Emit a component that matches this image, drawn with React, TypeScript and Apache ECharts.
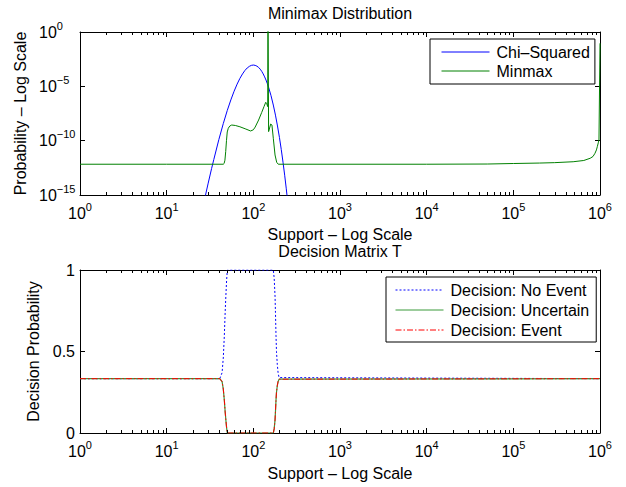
import React, { useEffect, useRef } from 'react';
import * as echarts from 'echarts';

const FONT = '"Liberation Sans", Arial, Helvetica, sans-serif';

// ---- Top panel: Minimax Distribution ----
const chiX = [26, 28, 30, 33, 35, 40, 45, 50, 55, 60, 65, 70, 75, 80, 85, 90, 95, 100, 105, 110, 115, 120, 125, 130, 135, 140, 145, 150, 160, 170, 180, 190, 200, 210, 220, 230, 240, 250];
const chiY = [6.3e-17, 8.9e-16, 1.05e-14, 2.75e-13, 1.86e-12, 1.26e-10, 3.7e-9, 5.9e-8, 5.6e-7, 3.55e-6, 1.6e-5, 5.4e-5, 1.38e-4, 2.9e-4, 4.9e-4, 6.9e-4, 8.5e-4, 9.1e-4, 8.5e-4, 7.2e-4, 5.5e-4, 3.8e-4, 2.4e-4, 1.38e-4, 7.4e-5, 3.8e-5, 1.8e-5, 8.1e-6, 1.38e-6, 1.9e-7, 2.24e-8, 2.24e-9, 2.0e-10, 1.55e-11, 1.05e-12, 6.6e-14, 3.7e-15, 1.9e-16];

const minmaxX = [1, 10, 45, 46, 47, 48, 49, 50, 51.4, 53.5, 56.3, 62, 70, 82, 93, 100, 105, 115, 125, 133, 139, 143, 146.5, 147.6, 150, 158.6, 164, 170, 178, 186, 194, 1000, 10000, 50000, 100000, 200000, 300000, 490000, 650000, 770000, 830000, 875000, 910000, 931000, 955000, 973000, 1000000];
const minmaxY = [6.8e-13, 6.8e-13, 6.8e-13, 7.9e-13, 1.58e-12, 1e-11, 1e-10, 6.3e-10, 1.38e-9, 2.24e-9, 2.75e-9, 2.5e-9, 1.9e-9, 1.17e-9, 7.8e-10, 1.0e-9, 1.78e-9, 7.9e-9, 4.0e-8, 1.41e-7, 3.4e-7, 2.5e-7, 1.35e-7, 100, 6.8e-10, 3.4e-9, 2.75e-9, 1.66e-10, 4.8e-12, 1.02e-12, 6.8e-13, 6.8e-13, 6.8e-13, 7.1e-13, 7.9e-13, 8.7e-13, 9.5e-13, 1.15e-12, 1.5e-12, 2.4e-12, 3.5e-12, 6.9e-12, 1.41e-11, 2.8e-11, 6.3e-11, 1.15e-10, 9.1e-2];

// ---- Bottom panel: Decision Matrix T ----
const decisionX = [1, 41, 43.6, 45, 46.3, 47.3, 48.2, 49.2, 50.1, 170, 174, 178, 180, 182.6, 185, 189, 193, 198, 1000000];
const noEventY = [0.3333, 0.3333, 0.37, 0.46, 0.6, 0.74, 0.84, 0.94, 1, 1, 0.95, 0.84, 0.74, 0.6, 0.5, 0.42, 0.37, 0.34, 0.3333];
const uncertainY = [0.3333, 0.3333, 0.315, 0.27, 0.2, 0.13, 0.08, 0.03, 0, 0, 0.025, 0.08, 0.13, 0.2, 0.25, 0.29, 0.315, 0.33, 0.3333];
const eventY = [0.3333, 0.3333, 0.315, 0.27, 0.2, 0.13, 0.08, 0.03, 0, 0, 0.025, 0.08, 0.13, 0.2, 0.25, 0.29, 0.315, 0.33, 0.3333];

// axis decoration: minor log ticks
const xDecades = [1, 10, 100, 1000, 10000, 100000];
const minorMultipliers = [2, 3, 4, 5, 6, 7, 8, 9];
const minorTicks = xDecades.flatMap((d) => minorMultipliers.map((m) => m * d));

const supText = (e: number) => `{b|10}{s|${e < 0 ? '\u2212' + -e : e}}`;
const rich = {
  b: { fontSize: 16, lineHeight: 24, fontFamily: FONT, color: '#000' },
  s: { fontSize: 11, lineHeight: 11, verticalAlign: 'top', fontFamily: FONT, color: '#000' },
};
const nameStyle = { fontSize: 16, color: '#000', fontFamily: FONT };
const axisLine = { show: true, onZero: false, lineStyle: { color: '#000', width: 1 } };
const tick = { show: true, inside: true, length: 5, lineStyle: { color: '#000', width: 1 } };
const noSplit = { show: false };

const pairs = (xs: number[], ys: number[]) => xs.map((x, i) => [x, ys[i]]);

const minorTickSeries = (xi: number, yi: number, yRef: number) => ({
  type: 'custom',
  xAxisIndex: xi,
  yAxisIndex: yi,
  silent: true,
  z: 5,
  data: minorTicks.map((v) => [v, yRef]),
  renderItem: (params: any, api: any) => {
    const x = Math.round(api.coord([api.value(0), api.value(1)])[0]) + 0.5;
    const cs = params.coordSys;
    const b = cs.y + cs.height;
    return {
      type: 'group',
      children: [
        { type: 'line', shape: { x1: x, y1: b, x2: x, y2: b - 3 }, style: { stroke: '#000', lineWidth: 1 } },
        { type: 'line', shape: { x1: x, y1: cs.y, x2: x, y2: cs.y + 3 }, style: { stroke: '#000', lineWidth: 1 } },
      ],
    };
  },
});

const logX = (grid: number, pos: 'bottom' | 'top', name: string, gap: number, labels: boolean) => ({
  gridIndex: grid,
  type: 'log',
  logBase: 10,
  min: 1,
  max: 1e6,
  position: pos,
  axisLine,
  axisTick: tick,
  splitLine: noSplit,
  axisLabel: labels
    ? { show: true, formatter: (v: number) => supText(Math.round(Math.log10(v))), rich, margin: 6 }
    : { show: false },
  name,
  nameLocation: 'middle',
  nameGap: gap,
  nameTextStyle: nameStyle,
});

export default function App() {
  const ref = useRef<HTMLDivElement>(null);
  useEffect(() => {
    const chart = echarts.init(ref.current!, undefined, { renderer: 'svg' });
    const legendText = { fontSize: 16, color: '#000', fontFamily: FONT, lineHeight: 16, padding: [0, 0, 0, 2] };
    const legendBase = {
      orient: 'vertical', itemWidth: 48, itemHeight: 14, borderColor: '#000', borderWidth: 1, borderRadius: 0,
      backgroundColor: '#fff', textStyle: legendText, selectedMode: false,
      itemStyle: { opacity: 0, borderWidth: 0 },
      lineStyle: { width: 1 },
    };
    const option: any = {
      animation: false,
      backgroundColor: '#fff',
      grid: [
        { left: 80, top: 32, width: 520, height: 163, containLabel: false },
        { left: 80, top: 270, width: 520, height: 163, containLabel: false },
      ],
      xAxis: [
        logX(0, 'bottom', 'Support \u2013 Log Scale', 31, true),
        logX(0, 'top', 'Minimax Distribution', 11, false),
        logX(1, 'bottom', 'Support \u2013 Log Scale', 32, true),
        logX(1, 'top', 'Decision Matrix T', 11, false),
      ],
      yAxis: [
        // log scale used by the series of the top panel
        { gridIndex: 0, type: 'log', logBase: 10, min: 1e-15, max: 1, position: 'left', show: false },
        // exponent axis that carries ticks / labels of the log scale
        {
          gridIndex: 0, type: 'value', min: -15, max: 0, interval: 5, position: 'left',
          axisLine, axisTick: tick, splitLine: noSplit,
          axisLabel: { formatter: (v: number) => supText(v), rich, align: 'left', margin: 41 },
          name: 'Probability \u2013 Log Scale', nameLocation: 'middle', nameGap: 49, nameTextStyle: nameStyle,
        },
        {
          gridIndex: 0, type: 'value', min: -15, max: 0, interval: 5, position: 'right',
          axisLine, axisTick: tick, splitLine: noSplit, axisLabel: { show: false },
        },
        {
          gridIndex: 1, type: 'value', min: 0, max: 1, interval: 0.5, position: 'left',
          axisLine, axisTick: tick, splitLine: noSplit,
          axisLabel: { fontSize: 16, color: '#000', fontFamily: FONT, margin: 5 },
          name: 'Decision Probability', nameLocation: 'middle', nameGap: 35, nameTextStyle: nameStyle,
        },
        {
          gridIndex: 1, type: 'value', min: 0, max: 1, interval: 0.5, position: 'right',
          axisLine, axisTick: tick, splitLine: noSplit, axisLabel: { show: false },
        },
      ],
      legend: [
        {
          ...legendBase,
          data: ['Chi\u2013Squared', 'Minmax'],
          left: 430, top: 39, padding: [5, 5, 5, 11], itemGap: 3,
        },
        {
          ...legendBase,
          data: ['Decision: No Event', 'Decision: Uncertain', 'Decision: Event'],
          left: 386, top: 277, padding: [5, 7, 4, 9], itemGap: 4,
        },
      ],
      series: [
        {
          name: 'Chi\u2013Squared', type: 'line', xAxisIndex: 0, yAxisIndex: 0,
          data: pairs(chiX, chiY), symbol: 'none', clip: true,
          lineStyle: { color: '#0000ff', width: 1 }, itemStyle: { color: '#0000ff' },
        },
        {
          name: 'Minmax', type: 'line', xAxisIndex: 0, yAxisIndex: 0,
          data: pairs(minmaxX, minmaxY), symbol: 'none', clip: true,
          lineStyle: { color: '#008000', width: 1 }, itemStyle: { color: '#008000' },
        },
        {
          name: 'Decision: No Event', type: 'line', xAxisIndex: 2, yAxisIndex: 3,
          data: pairs(decisionX, noEventY), symbol: 'none', clip: true,
          lineStyle: { color: '#0000ff', width: 1, type: [2, 2] }, itemStyle: { color: '#0000ff' },
        },
        {
          name: 'Decision: Uncertain', type: 'line', xAxisIndex: 2, yAxisIndex: 3,
          data: pairs(decisionX, uncertainY), symbol: 'none', clip: true,
          lineStyle: { color: '#3a9a3a', width: 1.2 }, itemStyle: { color: '#3a9a3a' },
        },
        {
          name: 'Decision: Event', type: 'line', xAxisIndex: 2, yAxisIndex: 3,
          data: pairs(decisionX, eventY), symbol: 'none', clip: true,
          lineStyle: { color: '#ff0000', width: 1, type: [6, 2, 1.5, 2] }, itemStyle: { color: '#ff0000' },
        },
        minorTickSeries(0, 0, 1e-5),
        minorTickSeries(2, 3, 0.5),
      ],
    };
    chart.setOption(option);
    return () => chart.dispose();
  }, []);
  return <div ref={ref} style={{ position: 'fixed', left: 0, top: 0, width: 626, height: 487 }} />;
}
